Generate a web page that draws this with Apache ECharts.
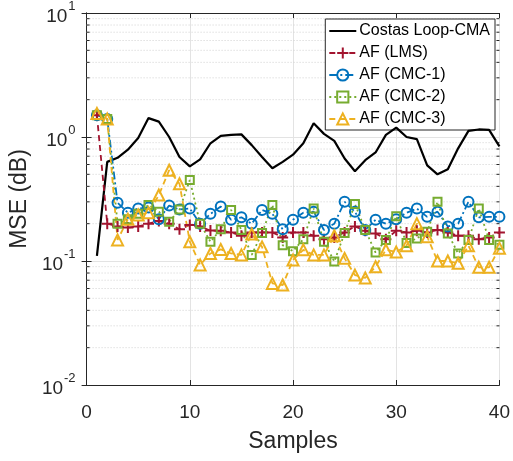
<!DOCTYPE html>
<html>
<head>
<meta charset="utf-8">
<script src="https://cdn.jsdelivr.net/npm/echarts@6/dist/echarts.min.js"></script>
<style>html,body{margin:0;padding:0;background:#fff}#c{width:513px;height:461px}</style>
</head>
<body>
<div id="c"></div>
<script>
const samples = [1,2,3,4,5,6,7,8,9,10,11,12,13,14,15,16,17,18,19,20,21,22,23,24,25,26,27,28,29,30,31,32,33,34,35,36,37,38,39,40];
const costas = [0.11,0.63,0.68,0.79,0.98,1.42,1.33,1.0,0.69,0.58,0.66,0.89,1.02,1.04,1.05,0.86,0.69,0.56,0.63,0.72,0.89,1.29,1.06,0.93,0.67,0.53,0.65,0.75,1.04,1.19,1.0,0.96,0.59,0.50,0.55,0.81,1.12,1.15,1.14,0.84];
const lms = [1.5,0.2,0.19,0.186,0.19,0.2,0.21,0.2,0.18,0.195,0.19,0.176,0.175,0.17,0.16,0.17,0.17,0.17,0.155,0.17,0.17,0.16,0.15,0.155,0.17,0.19,0.175,0.167,0.15,0.175,0.17,0.175,0.17,0.178,0.17,0.16,0.16,0.15,0.155,0.17];
const cmc1 = [1.5,1.4,0.295,0.245,0.265,0.27,0.217,0.28,0.26,0.265,0.2,0.24,0.275,0.215,0.225,0.2,0.258,0.24,0.18,0.215,0.245,0.25,0.178,0.2,0.3,0.25,0.178,0.215,0.2,0.217,0.245,0.265,0.227,0.25,0.19,0.2,0.3,0.225,0.227,0.227];
const cmc2 = [1.5,1.4,0.2,0.217,0.24,0.283,0.25,0.207,0.26,0.45,0.2,0.143,0.18,0.258,0.178,0.112,0.168,0.283,0.134,0.12,0.15,0.265,0.143,0.099,0.168,0.288,0.178,0.117,0.148,0.23,0.14,0.152,0.172,0.3,0.167,0.115,0.148,0.265,0.148,0.135];
const cmc3 = [1.55,1.4,0.148,0.217,0.235,0.245,0.34,0.54,0.42,0.143,0.093,0.115,0.124,0.115,0.112,0.165,0.13,0.066,0.064,0.102,0.123,0.112,0.112,0.16,0.105,0.077,0.073,0.09,0.123,0.118,0.133,0.2,0.157,0.1,0.1,0.096,0.133,0.089,0.089,0.127];
const seriesNames = ['Costas Loop-CMA','AF (LMS)','AF (CMC-1)','AF (CMC-2)','AF (CMC-3)'];
const xTicks = [0,10,20,30,40];

const minorVals = [];
[0.01,0.1,1].forEach(d => { for (let k = 2; k <= 9; k++) minorVals.push(+(d*k).toPrecision(3)); });

const toPairs = arr => samples.map((s,i) => [s, arr[i]]);
const FONT = 'Arial, "Liberation Sans", Helvetica, sans-serif';
const TXT = '#262626';
const plusPath = 'path://M5,0L5,10M0,5L10,5';

function mk(name, data, color, lineType, symbol, size, extra) {
  return Object.assign({
    name, type: 'line', data: toPairs(data), z: 5,
    symbol, symbolSize: size, showSymbol: symbol !== 'none',
    lineStyle: { color, width: 1.8, type: lineType },
    itemStyle: { color: 'rgba(255,255,255,0)', borderColor: color, borderWidth: 2 },
    emphasis: { disabled: true }, animation: false
  }, extra || {});
}

const chart = echarts.init(document.getElementById('c'), null, { renderer: 'canvas' });
const yLabel = {
  fontFamily: FONT, fontSize: 19, color: TXT, margin: 11,
  formatter: v => '{b|10}{s|' + Math.round(Math.log10(v)) + '}',
  rich: { b: { fontSize: 19, fontFamily: FONT, color: TXT, lineHeight: 26, verticalAlign: 'bottom' },
          s: { fontSize: 13, fontFamily: FONT, color: TXT, lineHeight: 26, verticalAlign: 'top', padding: [0,0,0,1] } }
};
chart.setOption({
  animation: false,
  backgroundColor: '#fff',
  grid: { left: 83, right: 11, top: 13, bottom: 76, containLabel: false },
  legend: {
    data: [
      { name: seriesNames[0], itemStyle: { color: 'rgba(0,0,0,0)', borderWidth: 0, opacity: 0 } },
      seriesNames[1], seriesNames[2], seriesNames[3], seriesNames[4]
    ],
    orient: 'vertical', right: 18, top: 19,
    backgroundColor: '#fff', borderColor: TXT, borderWidth: 1,
    padding: [4, 5, 3, 3], itemGap: 6, itemWidth: 27, itemHeight: 14,
    textStyle: { fontFamily: FONT, fontSize: 16, color: '#000', padding: [0,0,0,-2] }
  },
  xAxis: [{
    type: 'value', min: 0, max: 40, interval: 10,
    axisLine: { lineStyle: { color: TXT, width: 1 } },
    axisTick: { inside: true, length: 5, lineStyle: { color: TXT } },
    axisLabel: { fontFamily: FONT, fontSize: 19, color: TXT, margin: 18 },
    splitLine: { show: true, lineStyle: { color: '#e3e3e3', width: 1 } },
    name: 'Samples', nameLocation: 'middle', nameGap: 45,
    nameTextStyle: { fontFamily: FONT, fontSize: 23, color: TXT }
  }, {
    type: 'value', min: 0, max: 40, interval: 10, position: 'top',
    axisLine: { lineStyle: { color: TXT } },
    axisTick: { inside: true, length: 5, lineStyle: { color: TXT } },
    axisLabel: { show: false }, splitLine: { show: false }
  }],
  yAxis: [{
    type: 'log', logBase: 10, min: 0.01, max: 10,
    axisLine: { show: true, lineStyle: { color: TXT } },
    axisTick: { inside: true, length: 5, lineStyle: { color: TXT } },
    axisLabel: yLabel,
    splitLine: { show: true, lineStyle: { color: '#e3e3e3', width: 1 } },
    name: 'MSE (dB)', nameLocation: 'middle', nameGap: 52,
    nameTextStyle: { fontFamily: FONT, fontSize: 23, color: TXT }
  }, {
    type: 'log', logBase: 10, min: 0.01, max: 10, position: 'right',
    axisLine: { show: true, lineStyle: { color: TXT } },
    axisTick: { inside: true, length: 5, lineStyle: { color: TXT } },
    axisLabel: { show: false }, splitLine: { show: false }
  }],
  series: [
    {
      name: 'minorgrid', type: 'custom', z: 1, silent: true,
      data: minorVals.map(v => [0, v]),
      renderItem: (params, api) => {
        const v = api.value(1);
        const p0 = api.coord([0, v]);
        const p1 = api.coord([40, v]);
        return { type: 'group', children: [
          { type: 'line', shape: { x1: p0[0], y1: p0[1], x2: p1[0], y2: p1[1] },
            style: { stroke: '#d0d0d0', lineWidth: 1, lineDash: [1, 2] } },
          { type: 'line', shape: { x1: p0[0], y1: p0[1], x2: p0[0] + 3, y2: p0[1] },
            style: { stroke: TXT, lineWidth: 1 } },
          { type: 'line', shape: { x1: p1[0] - 3, y1: p1[1], x2: p1[0], y2: p1[1] },
            style: { stroke: TXT, lineWidth: 1 } }
        ]};
      },
      animation: false
    },
    mk(seriesNames[0], costas, '#000000', 'solid', 'none', 0, { lineStyle: { color: '#000', width: 2.2, type: 'solid' }, itemStyle: { color: '#000' } }),
    mk(seriesNames[1], lms, '#A2142F', [6, 4], plusPath, 11),
    mk(seriesNames[2], cmc1, '#0072BD', [8, 3, 2, 3], 'circle', 10),
    mk(seriesNames[3], cmc2, '#77AC30', [2, 3], 'rect', 8),
    mk(seriesNames[4], cmc3, '#EDB120', [6, 4], 'triangle', 11)
  ]
});
</script>
</body>
</html>
